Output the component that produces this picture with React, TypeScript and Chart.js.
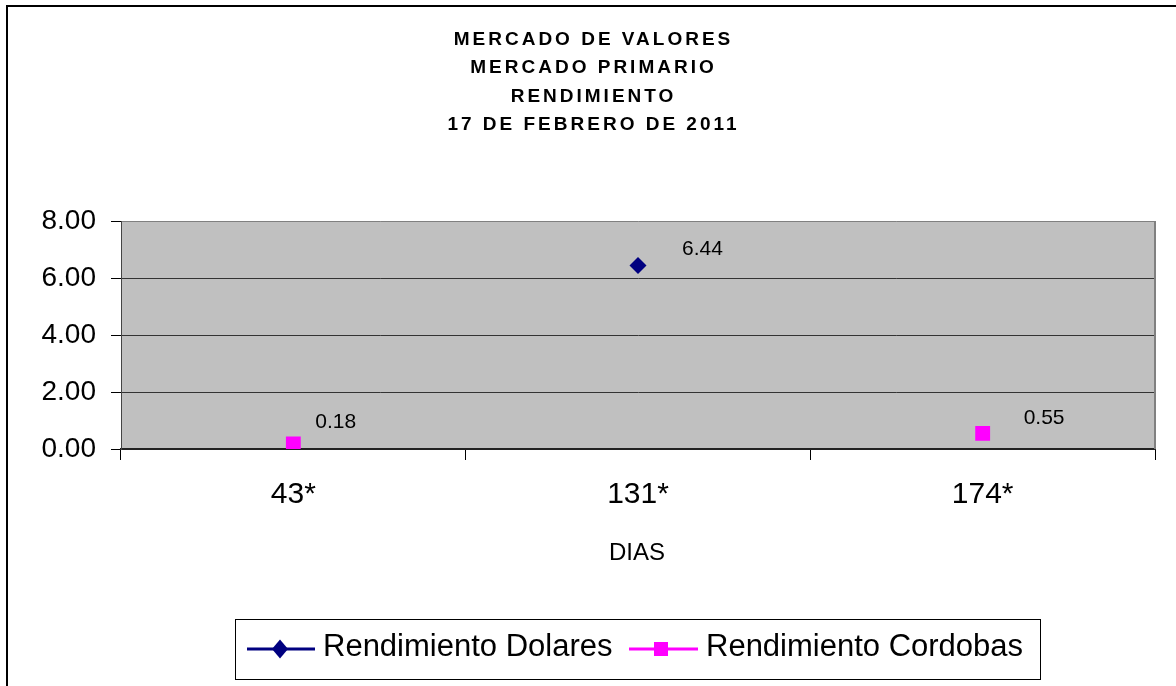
import React, { useEffect, useRef } from "react";
import { Chart, registerables } from "chart.js";

Chart.register(...registerables);

// ---- data ----
const TITLE_LINES = ["MERCADO DE VALORES", "MERCADO PRIMARIO", "RENDIMIENTO", "17 DE FEBRERO DE 2011"];
const CATEGORIES = ["43*", "131*", "174*"];
const DOLARES: (number | null)[] = [null, 6.44, null];
const CORDOBAS: (number | null)[] = [0.18, null, 0.55];
const Y_MIN = 0;
const Y_MAX = 8;
const Y_STEP = 2;
const X_TITLE = "DIAS";
const SERIES_NAMES = ["Rendimiento Dolares", "Rendimiento Cordobas"];

// ---- style ----
const FONT = '"Liberation Sans", Arial, sans-serif';
const NAVY = "#000080";
const MAGENTA = "#FF00FF";
// label offsets (px) relative to each point: [datasetIndex][index]
const LABEL_OFFSETS: Record<string, [number, number]> = {
  "0-1": [44, -16],
  "1-0": [22, -22],
  "1-2": [41, -15],
};

const decorPlugin = {
  id: "decor",
  beforeDraw(chart: any) {
    const { ctx, chartArea: a } = chart;
    ctx.save();
    ctx.fillStyle = "#C0C0C0";
    ctx.fillRect(a.left, a.top, a.right - a.left, a.bottom - a.top);
    ctx.restore();
  },
  afterDraw(chart: any) {
    const { ctx, chartArea: a } = chart;
    ctx.save();
    // outer border
    ctx.strokeStyle = "#000";
    ctx.lineWidth = 2;
    ctx.beginPath();
    ctx.moveTo(7, 700);
    ctx.lineTo(7, 6);
    ctx.lineTo(1200, 6);
    ctx.stroke();

    // right border of plot area
    ctx.strokeStyle = "#808080";
    ctx.lineWidth = 2;
    ctx.beginPath();
    ctx.moveTo(a.right, a.top);
    ctx.lineTo(a.right, a.bottom);
    ctx.stroke();

    // title
    ctx.fillStyle = "#000";
    ctx.font = `bold 19px ${FONT}`;
    (ctx as any).letterSpacing = "3px";
    ctx.textAlign = "center";
    ctx.textBaseline = "middle";
    TITLE_LINES.forEach((t, i) => {
      ctx.fillText(t, 593.5, 39.5 + i * 28.5);
    });
    (ctx as any).letterSpacing = "0px";

    // x axis title
    ctx.font = `24px ${FONT}`;
    ctx.fillText(X_TITLE, 637, 553);

    // data labels
    ctx.font = `21px ${FONT}`;
    ctx.textAlign = "left";
    chart.data.datasets.forEach((ds: any, di: number) => {
      const meta = chart.getDatasetMeta(di);
      ds.data.forEach((v: number | null, i: number) => {
        if (v === null || v === undefined) return;
        const el = meta.data[i];
        const off = LABEL_OFFSETS[`${di}-${i}`] || [30, -18];
        ctx.fillText(v.toFixed(2), el.x + off[0], el.y + off[1]);
      });
    });

    // legend
    ctx.strokeStyle = "#000";
    ctx.lineWidth = 1;
    ctx.strokeRect(235.5, 619.5, 805, 60);
    // series 1
    ctx.strokeStyle = NAVY;
    ctx.lineWidth = 3;
    ctx.beginPath();
    ctx.moveTo(247, 649);
    ctx.lineTo(315, 649);
    ctx.stroke();
    ctx.fillStyle = NAVY;
    ctx.beginPath();
    ctx.moveTo(280, 639.5);
    ctx.lineTo(288, 649);
    ctx.lineTo(280, 658.5);
    ctx.lineTo(272, 649);
    ctx.closePath();
    ctx.fill();
    // series 2
    ctx.strokeStyle = MAGENTA;
    ctx.beginPath();
    ctx.moveTo(629, 649);
    ctx.lineTo(698, 649);
    ctx.stroke();
    ctx.fillStyle = MAGENTA;
    ctx.fillRect(654, 642, 14, 14);
    // text
    ctx.fillStyle = "#000";
    ctx.font = `31px ${FONT}`;
    ctx.textAlign = "left";
    ctx.textBaseline = "middle";
    ctx.fillText(SERIES_NAMES[0], 323, 647);
    ctx.fillText(SERIES_NAMES[1], 706, 647);
    ctx.restore();
  },
};

export default function App() {
  const ref = useRef<HTMLCanvasElement | null>(null);
  useEffect(() => {
    if (!ref.current) return;
    const chart = new Chart(ref.current, {
      type: "line",
      data: {
        labels: CATEGORIES,
        datasets: [
          {
            label: SERIES_NAMES[0],
            data: DOLARES,
            showLine: false,
            borderColor: NAVY,
            backgroundColor: NAVY,
            pointStyle: "rectRot",
            pointRadius: 8.5,
            pointBorderWidth: 0,
          },
          {
            label: SERIES_NAMES[1],
            data: CORDOBAS,
            showLine: false,
            borderColor: MAGENTA,
            backgroundColor: MAGENTA,
            pointStyle: "rect",
            pointRadius: 10.5,
            pointBorderWidth: 0,
          },
        ],
      },
      options: {
        responsive: false,
        animation: false,
        devicePixelRatio: 1,
        layout: { padding: { top: 221, right: 21, left: 0, bottom: 0 } },
        plugins: {
          legend: { display: false },
          title: { display: false },
          tooltip: { enabled: false },
        },
        scales: {
          x: {
            type: "category",
            offset: true,
            afterFit: (s: any) => {
              s.height = 237;
            },
            grid: {
              offset: true,
              drawOnChartArea: false,
              drawTicks: true,
              tickLength: 11,
              tickColor: "#000",
            },
            border: { display: true, color: "#222", width: 2 },
            ticks: {
              color: "#000",
              font: { family: FONT, size: 30 },
              padding: 17,
              maxRotation: 0,
            },
          },
          y: {
            min: Y_MIN,
            max: Y_MAX,
            afterFit: (s: any) => {
              s.width = 121;
            },
            ticks: {
              stepSize: Y_STEP,
              color: "#000",
              font: { family: FONT, size: 28 },
              padding: 15,
              callback: (v: any) => Number(v).toFixed(2),
            },
            grid: {
              color: (c: any) =>
                c.tick && c.tick.value === Y_MAX ? "#808080" : c.tick && c.tick.value === Y_MIN ? "#000" : "#333",
              tickColor: "#000",
              tickLength: 10,
              lineWidth: 1,
            },
            border: { display: true, color: "#444", width: 1 },
          },
        },
      },
      plugins: [decorPlugin],
    });
    return () => chart.destroy();
  }, []);
  return (
    <div style={{ position: "absolute", left: 0, top: 0, width: 1176, height: 686 }}>
      <canvas ref={ref} width={1176} height={686} style={{ display: "block" }} />
    </div>
  );
}
